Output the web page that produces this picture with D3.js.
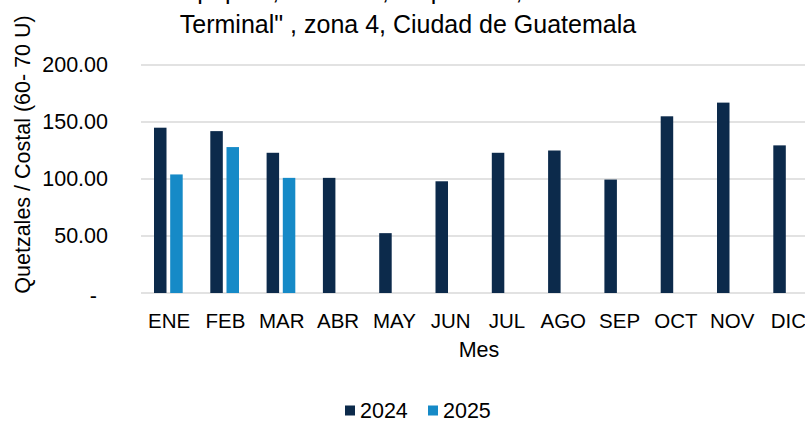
<!DOCTYPE html>
<html>
<head>
<meta charset="utf-8">
<script src="https://cdn.jsdelivr.net/npm/d3@7"></script>
<style>
  body { margin: 0; background: #fff; }
  svg { display: block; }
  text { font-family: "Liberation Sans", Arial, sans-serif; fill: #000; }
</style>
</head>
<body>
<svg id="chart" width="805" height="422"></svg>
<script>
// Monthly wholesale price, quetzales per sack
const months = ["ENE", "FEB", "MAR", "ABR", "MAY", "JUN", "JUL", "AGO", "SEP", "OCT", "NOV", "DIC"];
const seriesNames = ["2024", "2025"];
const values2024 = [145, 142, 123, 101, 52.5, 98, 123, 125, 99.5, 155, 167, 129.5];
const values2025 = [104, 128, 101];
const yTicks = [0, 50, 100, 150, 200];
const titleLines = [
  "Precio de pepino, mediano, de primera, en el mercado \"La",
  "Terminal\" , zona 4, Ciudad de Guatemala"
];
const yTitle = "Quetzales / Costal (60- 70 U)";
const xTitle = "Mes";
const seriesColors = ["#0c2a4b", "#168ac7"];

const svg = d3.select("#chart");
const fontSize = 21.5;
const titleSize = 25;

const x0 = d3.scaleBand().domain(months).range([141, 816.6]).padding(0);
const x1 = d3.scaleBand().domain(seriesNames).range([13, 41.7]).paddingInner(0.228).paddingOuter(0);
const y = d3.scaleLinear().domain([0, 200]).range([293, 65]);
const color = d3.scaleOrdinal().domain(seriesNames).range(seriesColors);

// rows of {month, series, value}
const rows = [];
months.forEach((m, i) => {
  if (values2024[i] != null) rows.push({ month: m, series: "2024", value: values2024[i] });
  if (values2025[i] != null) rows.push({ month: m, series: "2025", value: values2025[i] });
});

// horizontal gridlines
svg.append("g")
  .selectAll("line")
  .data(yTicks)
  .join("line")
  .attr("x1", 141)
  .attr("x2", 817)
  .attr("y1", d => y(d))
  .attr("y2", d => y(d))
  .attr("stroke", "#d9d9d9")
  .attr("stroke-width", 1.6);

// bars
svg.append("g")
  .selectAll("rect")
  .data(rows)
  .join("rect")
  .attr("x", d => x0(d.month) + x1(d.series))
  .attr("width", x1.bandwidth())
  .attr("y", d => y(d.value))
  .attr("height", d => y(0) - y(d.value))
  .attr("fill", d => color(d.series));

// y axis labels
const yAxis = svg.append("g")
  .attr("transform", "translate(141,0)")
  .call(d3.axisLeft(y).tickValues(yTicks).tickSize(0).tickPadding(33)
    .tickFormat(d => d === 0 ? "-" : d3.format(".2f")(d)));
yAxis.select(".domain").remove();
yAxis.selectAll("text")
  .attr("font-size", fontSize)
  .attr("font-family", null)
  .attr("fill", "#000");
yAxis.selectAll(".tick").filter(d => d === 0).select("text")
  .attr("x", -44)
  .attr("dy", "0.45em");

// x axis labels
const xAxis = svg.append("g")
  .attr("transform", `translate(0,${y(0)})`)
  .call(d3.axisBottom(x0).tickSize(0).tickPadding(20));
xAxis.select(".domain").remove();
xAxis.selectAll("text")
  .attr("font-size", 20.5)
  .attr("font-family", null)
  .attr("fill", "#000");

// axis titles
svg.append("text")
  .attr("transform", "translate(30,154.5) rotate(-90)")
  .attr("text-anchor", "middle")
  .attr("font-size", fontSize)
  .text(yTitle);

svg.append("text")
  .attr("x", 479)
  .attr("y", 357)
  .attr("text-anchor", "middle")
  .attr("font-size", fontSize)
  .text(xTitle);

// chart title (first line runs off the top edge)
svg.append("g")
  .selectAll("text")
  .data(titleLines)
  .join("text")
  .attr("x", 408)
  .attr("y", (d, i) => i === 0 ? -1 : 32.5)
  .attr("text-anchor", "middle")
  .attr("font-size", titleSize)
  .text(d => d);

// legend
const legend = svg.append("g").attr("transform", "translate(345,418)");
const item = legend.selectAll("g")
  .data(seriesNames)
  .join("g")
  .attr("transform", (d, i) => `translate(${i * 83},0)`);
item.append("rect")
  .attr("x", 0)
  .attr("y", -12.5)
  .attr("width", 10)
  .attr("height", 10)
  .attr("fill", d => color(d));
item.append("text")
  .attr("x", 15)
  .attr("y", 0)
  .attr("font-size", fontSize)
  .text(d => d);
</script>
</body>
</html>
